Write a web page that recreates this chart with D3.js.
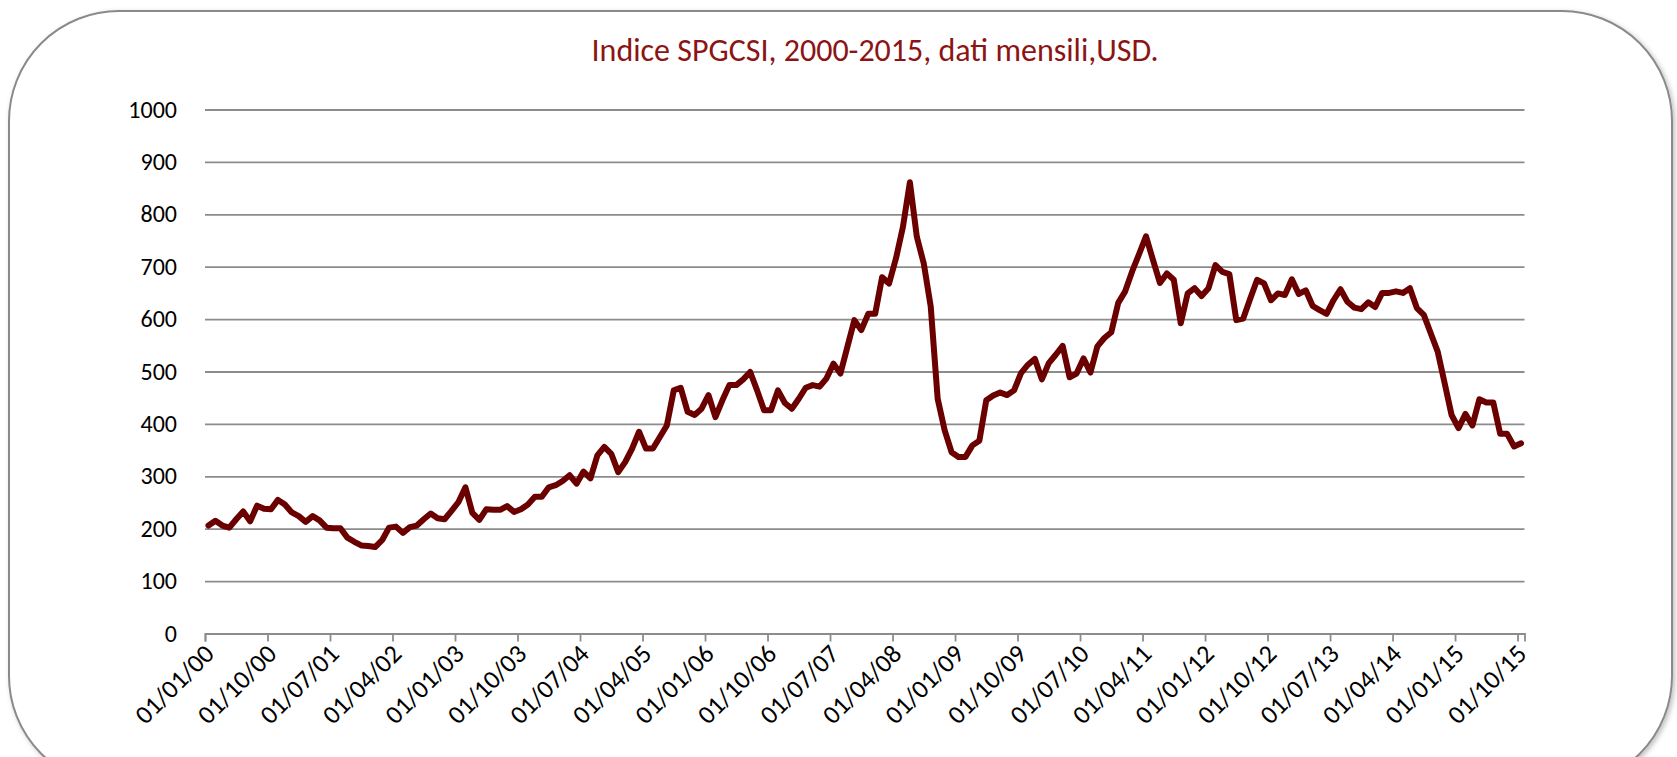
<!DOCTYPE html>
<html>
<head>
<meta charset="utf-8">
<script src="https://cdn.jsdelivr.net/npm/d3@7"></script>
<style>
  body { margin: 0; background: #ffffff; }
  svg { display: block; }
</style>
</head>
<body>
<div id="chart"></div>
<script>
// Chart title
var chartTitle = "Indice SPGCSI, 2000-2015, dati mensili,USD.";

// First month of the series (monthly data, Jan 2000 - Oct 2015)
var startYear = 2000;
var startMonth = 0;

// Index values, one per month
var indexValues = [
  206, 215, 206, 202, 218, 233, 214, 244, 238, 237,
  255, 246, 231, 224, 213, 224, 216, 202, 201, 201,
  183, 175, 168, 167, 165, 178, 202, 204, 192, 203,
  206, 218, 229, 220, 218, 234, 251, 279, 230, 217,
  237, 236, 236, 243, 232, 237, 246, 261, 261, 279,
  283, 291, 302, 286, 309, 296, 340, 356, 343, 308,
  327, 353, 385, 353, 353, 375, 397, 464, 469, 423,
  417, 429, 455, 413, 445, 474, 474, 485, 499, 464,
  426, 426, 464, 440, 429, 448, 469, 474, 471, 487,
  515, 496, 547, 598, 579, 610, 610, 680, 668, 716,
  776, 861, 757, 706, 624, 448, 388, 346, 337, 337,
  359, 368, 445, 454, 460, 455, 464, 497, 513, 524,
  485, 516, 532, 549, 489, 496, 525, 498, 548, 564,
  575, 631, 653, 691, 724, 758, 713, 669, 687, 675,
  592, 649, 659, 644, 659, 703, 690, 686, 598, 601,
  639, 675, 668, 636, 649, 646, 676, 648, 655, 625,
  617, 610, 636, 657, 633, 622, 619, 632, 623, 650,
  650, 653, 650, 659, 621, 608, 573, 538, 478, 417,
  392, 419, 397, 447, 441, 441, 381, 381, 357, 363
];

// X-axis tick labels (every 9 months)
var xTickLabels = [
  "01/01/00", "01/10/00", "01/07/01", "01/04/02", "01/01/03", "01/10/03",
  "01/07/04", "01/04/05", "01/01/06", "01/10/06", "01/07/07", "01/04/08",
  "01/01/09", "01/10/09", "01/07/10", "01/04/11", "01/01/12", "01/10/12",
  "01/07/13", "01/04/14", "01/01/15", "01/10/15"
];
var tickStep = 9;

// Y-axis ticks
var yTicks = [0, 100, 200, 300, 400, 500, 600, 700, 800, 900, 1000];

// Build the monthly records
var data = indexValues.map(function (v, i) {
  return { month: i, date: new Date(startYear, startMonth + i, 1), value: v };
});

var svgWidth = 1677;
var svgHeight = 757;

// Plot area in page pixels
var plot = { left: 205, right: 1524.5, top: 109.5, bottom: 633.5 };

var svg = d3.select("#chart")
  .append("svg")
  .attr("width", svgWidth)
  .attr("height", svgHeight);

// soft shadow for the rounded frame
var defs = svg.append("defs");
var shadow = defs.append("filter")
  .attr("id", "frameShadow")
  .attr("x", "-5%").attr("y", "-5%")
  .attr("width", "110%").attr("height", "110%");
shadow.append("feDropShadow")
  .attr("dx", 2).attr("dy", 2)
  .attr("stdDeviation", 2.5)
  .attr("flood-color", "#000")
  .attr("flood-opacity", 0.25);

// Rounded chart frame
svg.append("rect")
  .attr("x", 9)
  .attr("y", 11)
  .attr("width", 1663)
  .attr("height", 775)
  .attr("rx", 110)
  .attr("ry", 110)
  .attr("fill", "#ffffff")
  .attr("stroke", "#8a8a8a")
  .attr("stroke-width", 2)
  .attr("filter", "url(#frameShadow)");

// Scales: month index, points sit in the middle of each month
var xScale = d3.scaleLinear()
  .domain([0, indexValues.length])
  .range([plot.left, plot.right]);

var yScale = d3.scaleLinear()
  .domain([0, 1000])
  .range([plot.bottom, plot.top]);

var fontFamily = "Carlito, Calibri, Lato, sans-serif";

// Gridlines + y labels
var yAxis = d3.axisLeft(yScale)
  .tickValues(yTicks)
  .tickSize(-(plot.right - plot.left))
  .tickPadding(28)
  .tickFormat(d3.format("d"));

var yAxisG = svg.append("g")
  .attr("transform", `translate(${plot.left},0)`)
  .call(yAxis);

yAxisG.select(".domain").remove();
yAxisG.selectAll(".tick line")
  .attr("stroke", "#8c8c8c")
  .attr("stroke-width", 1.8);
yAxisG.selectAll(".tick text")
  .attr("fill", "#000")
  .attr("font-family", fontFamily)
  .attr("font-size", "24px");

// X axis with ticks every 9 months
var xTickValues = xTickLabels.map(function (d, i) { return i * tickStep; });

var xAxis = d3.axisBottom(xScale)
  .tickValues(xTickValues)
  .tickSize(8)
  .tickFormat(function (d, i) { return xTickLabels[i]; });

var xAxisG = svg.append("g")
  .attr("transform", `translate(0,${plot.bottom})`)
  .call(xAxis);

xAxisG.select(".domain")
  .attr("stroke", "#8c8c8c")
  .attr("stroke-width", 1.8);
xAxisG.selectAll(".tick line")
  .attr("stroke", "#8c8c8c")
  .attr("stroke-width", 1.8);
xAxisG.selectAll(".tick text")
  .attr("fill", "#000")
  .attr("font-family", fontFamily)
  .attr("font-size", "26px")
  .attr("text-anchor", "end")
  .attr("y", 0)
  .attr("dy", 0)
  .attr("transform", "translate(10,22) rotate(-45)");

// Index line
var line = d3.line()
  .x(function (d) { return xScale(d.month + 0.5); })
  .y(function (d) { return yScale(d.value); });

svg.append("path")
  .datum(data)
  .attr("fill", "none")
  .attr("stroke", "#6b0000")
  .attr("stroke-width", 6)
  .attr("stroke-linejoin", "round")
  .attr("stroke-linecap", "round")
  .attr("d", line);

// Title
svg.append("text")
  .attr("x", 875)
  .attr("y", 61)
  .attr("text-anchor", "middle")
  .attr("fill", "#8b1414")
  .attr("font-family", fontFamily)
  .attr("font-size", "32px")
  .text(chartTitle);
</script>
</body>
</html>
